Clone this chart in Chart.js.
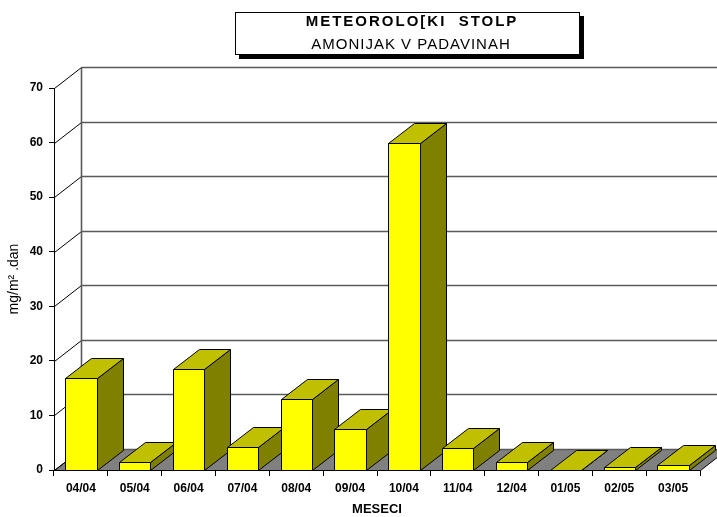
<!DOCTYPE html>
<html>
<head>
<meta charset="utf-8">
<script src="https://cdn.jsdelivr.net/npm/chart.js@4.4.1/dist/chart.umd.min.js"></script>
<style>
html,body{margin:0;padding:0;background:#fff;}
#wrap{width:717px;height:517px;}
</style>
</head>
<body>
<div id="wrap"><canvas id="c" width="717" height="517"></canvas></div>
<script>
// podatki
var months = ["04/04","05/04","06/04","07/04","08/04","09/04","10/04","11/04","12/04","01/05","02/05","03/05"];
var amonijak = [16.8, 1.5, 18.5, 4.3, 13.0, 7.6, 59.9, 4.0, 1.4, 0, 0.6, 1.0];
var yTicks = [0, 10, 20, 30, 40, 50, 60, 70];
var titleMain = "METEOROLO[KI  STOLP";
var titleSub = "AMONIJAK V PADAVINAH";
var yLabel = "mg/m\u00B2 .dan";
var xLabel = "MESECI";

var FONT = "'Liberation Sans', Arial, sans-serif";
var WALL_DX = 27, WALL_DY = 21;   // globina zadnje stene
var BAR_DX = 26, BAR_DY = 20;     // globina stolpcev

function line(ctx, x1, y1, x2, y2){
    ctx.beginPath();
    ctx.moveTo(x1, y1);
    ctx.lineTo(x2, y2);
    ctx.stroke();
}

function poly(ctx, pts, fill){
    ctx.beginPath();
    ctx.moveTo(pts[0][0], pts[0][1]);
    for(var i=1;i<pts.length;i++){
        ctx.lineTo(pts[i][0], pts[i][1]);
    }
    ctx.closePath();
    ctx.fillStyle = fill;
    ctx.fill();
    ctx.stroke();
}

var frame3d = {
    id : "frame3d",
    beforeDraw : function(chart){
        var ctx = chart.ctx, a = chart.chartArea, ys = chart.scales.y;
        var y0 = Math.round(ys.getPixelForValue(0)) + 0.5;
        var L = Math.round(a.left) + 0.5, R = Math.round(a.right) + 0.5;
        ctx.save();
        // tla
        ctx.strokeStyle = "#000";
        ctx.lineWidth = 1;
        ctx.beginPath();
        ctx.moveTo(L, y0);
        ctx.lineTo(R, y0);
        ctx.lineTo(R + WALL_DX, y0 - WALL_DY);
        ctx.lineTo(L + WALL_DX, y0 - WALL_DY);
        ctx.closePath();
        ctx.fillStyle = "#808080";
        ctx.fill();
        line(ctx, R, y0, R + WALL_DX, y0 - WALL_DY);
        line(ctx, L, y0, L + WALL_DX, y0 - WALL_DY);

        // mreza na zadnji steni in leva stena
        for(var i=0;i<yTicks.length;i++){
            var y = Math.round(ys.getPixelForValue(yTicks[i])) + 0.5;
            ctx.strokeStyle = "#5a5a5a";
            ctx.lineWidth = 1.6;
            line(ctx, L + WALL_DX, y - WALL_DY, chart.width, y - WALL_DY);
            ctx.strokeStyle = "#000";
            ctx.lineWidth = 1;
            line(ctx, L, y, L + WALL_DX, y - WALL_DY);
        }
        var yT = Math.round(ys.getPixelForValue(yTicks[yTicks.length-1])) + 0.5;
        ctx.strokeStyle = "#5a5a5a";
        ctx.lineWidth = 1.6;
        line(ctx, L + WALL_DX, yT - WALL_DY, L + WALL_DX, y0 - WALL_DY);
        ctx.restore();
    },
    beforeDatasetsDraw : function(chart){
        var ctx = chart.ctx;
        var meta = chart.getDatasetMeta(0);
        ctx.save();
        ctx.strokeStyle = "#000";
        ctx.lineWidth = 1;
        ctx.lineJoin = "round";
        for(var i=0;i<meta.data.length;i++){
            var bar = meta.data[i];
            var l = Math.round(bar.x - bar.width/2) + 0.5;
            var r = Math.round(bar.x + bar.width/2) + 0.5;
            var t = Math.round(bar.y) + 0.5;
            var b = Math.round(bar.base) + 0.5;
            // bocna ploskev
            poly(ctx, [[r,t],[r+BAR_DX,t-BAR_DY],[r+BAR_DX,b-BAR_DY],[r,b]], "#808000");
            // zgornja ploskev
            poly(ctx, [[l,t],[l+BAR_DX,t-BAR_DY],[r+BAR_DX,t-BAR_DY],[r,t]], "#C0C000");
            // sprednja ploskev
            if(b - t > 0){
                ctx.fillStyle = "#FFFF00";
                ctx.fillRect(l, t, r - l, b - t);
                ctx.strokeRect(l, t, r - l, b - t);
            }
        }
        ctx.restore();
        return false;
    },
    afterDraw : function(chart){
        var ctx = chart.ctx;
        ctx.save();
        // okvir naslova s senco
        ctx.fillStyle = "#000";
        ctx.fillRect(239, 16, 345, 43);
        ctx.fillStyle = "#fff";
        ctx.fillRect(235, 12, 345, 43);
        ctx.strokeStyle = "#000";
        ctx.lineWidth = 1;
        ctx.strokeRect(235.5, 12.5, 344, 42);
        ctx.fillStyle = "#000";
        ctx.textAlign = "center";
        ctx.textBaseline = "alphabetic";
        ctx.font = "bold 15px " + FONT;
        ctx.letterSpacing = "2px";
        ctx.fillText(titleMain, 412, 26);
        ctx.font = "15px " + FONT;
        ctx.letterSpacing = "1px";
        ctx.fillText(titleSub, 411, 48.5);
        ctx.restore();
    }
};

var ctx = document.getElementById("c").getContext("2d");
var chart = new Chart(ctx, {
    type : "bar",
    data : {
        labels : months,
        datasets : [{
            label : titleSub,
            data : amonijak,
            backgroundColor : "#FFFF00",
            borderColor : "#000",
            borderWidth : 1,
            categoryPercentage : 1,
            barPercentage : 0.58
        }]
    },
    options : {
        responsive : false,
        animation : false,
        layout : { padding : { top : 88, right : 17, left : 0, bottom : 0 } },
        plugins : {
            legend : { display : false },
            tooltip : { enabled : false }
        },
        scales : {
            x : {
                grid : { display : true, drawOnChartArea : false, tickLength : 6, color : "#000" },
                border : { display : true, color : "#000", width : 1 },
                ticks : { color : "#000", padding : 5, maxRotation : 0, font : { family : FONT, size : 12, weight : "bold" } },
                title : { display : true, text : xLabel, color : "#000", padding : { top : 0, bottom : 0 }, font : { family : FONT, size : 13, weight : "bold" } },
                afterFit : function(scale){ scale.height = 47; }
            },
            y : {
                min : yTicks[0],
                max : yTicks[yTicks.length-1],
                grid : { display : true, drawOnChartArea : false, tickLength : 5, color : "#000" },
                border : { display : true, color : "#000", width : 1 },
                ticks : { stepSize : yTicks[1] - yTicks[0], color : "#000", padding : 6, font : { family : FONT, size : 12, weight : "bold" } },
                title : { display : true, text : yLabel, color : "#000", padding : { top : 6, bottom : 0 }, font : { family : FONT, size : 14 } },
                afterFit : function(scale){ scale.width = 54; }
            }
        }
    },
    plugins : [frame3d]
});
</script>
</body>
</html>
